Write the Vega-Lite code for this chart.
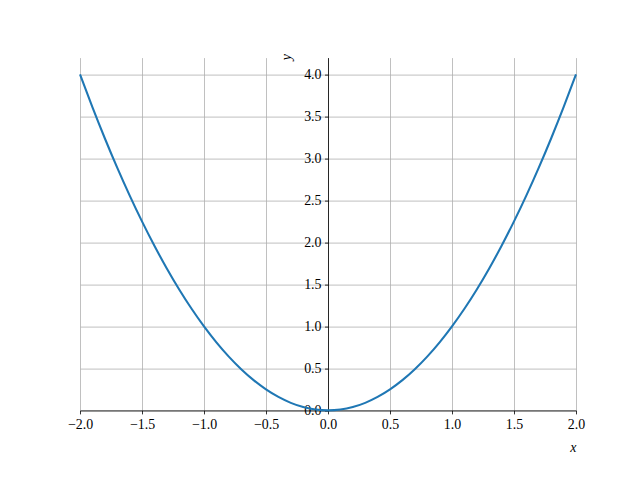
{
  "$schema": "https://vega.github.io/schema/vega-lite/v6.json",
  "width": 496,
  "height": 352.8,
  "autosize": {"type": "none"},
  "padding": {"left": 80, "top": 57.6, "right": 64, "bottom": 69.6},
  "background": "white",
  "config": {
    "view": {"stroke": null},
    "axis": {
      "labelFont": "Liberation Serif",
      "labelFontSize": 13.9,
      "labelColor": "black",
      "titleFont": "Liberation Serif",
      "titleFontSize": 13.9,
      "titleFontWeight": "normal",
      "titleFontStyle": "italic",
      "titleColor": "black",
      "domainColor": "black",
      "domainWidth": 0.8,
      "tickColor": "black",
      "tickWidth": 0.8,
      "tickSize": 3.5,
      "labelPadding": 3.5,
      "gridColor": "#b0b0b0",
      "gridWidth": 0.8,
      "gridOpacity": 1,
      "labelFlush": false,
      "labelOverlap": false,
      "labelBound": false
    }
  },
  "data": {
    "values": [
      {"x": -2.0, "y": 4.00}, {"x": -1.9, "y": 3.61}, {"x": -1.8, "y": 3.24}, {"x": -1.7, "y": 2.89},
      {"x": -1.6, "y": 2.56}, {"x": -1.5, "y": 2.25}, {"x": -1.4, "y": 1.96}, {"x": -1.3, "y": 1.69},
      {"x": -1.2, "y": 1.44}, {"x": -1.1, "y": 1.21}, {"x": -1.0, "y": 1.00}, {"x": -0.9, "y": 0.81},
      {"x": -0.8, "y": 0.64}, {"x": -0.7, "y": 0.49}, {"x": -0.6, "y": 0.36}, {"x": -0.5, "y": 0.25},
      {"x": -0.4, "y": 0.16}, {"x": -0.3, "y": 0.09}, {"x": -0.2, "y": 0.04}, {"x": -0.1, "y": 0.01},
      {"x": 0.0, "y": 0.00},
      {"x": 0.1, "y": 0.01}, {"x": 0.2, "y": 0.04}, {"x": 0.3, "y": 0.09}, {"x": 0.4, "y": 0.16},
      {"x": 0.5, "y": 0.25}, {"x": 0.6, "y": 0.36}, {"x": 0.7, "y": 0.49}, {"x": 0.8, "y": 0.64},
      {"x": 0.9, "y": 0.81}, {"x": 1.0, "y": 1.00}, {"x": 1.1, "y": 1.21}, {"x": 1.2, "y": 1.44},
      {"x": 1.3, "y": 1.69}, {"x": 1.4, "y": 1.96}, {"x": 1.5, "y": 2.25}, {"x": 1.6, "y": 2.56},
      {"x": 1.7, "y": 2.89}, {"x": 1.8, "y": 3.24}, {"x": 1.9, "y": 3.61}, {"x": 2.0, "y": 4.00}
    ]
  },
  "mark": {"type": "line", "color": "#1f77b4", "strokeWidth": 2.08, "interpolate": "monotone"},
  "encoding": {
    "x": {
      "field": "x",
      "type": "quantitative",
      "scale": {"domain": [-2, 2], "nice": false, "zero": false},
      "axis": {
        "title": "x",
        "values": [-2, -1.5, -1, -0.5, 0, 0.5, 1, 1.5, 2],
        "format": ".1f",
        "grid": true,
        "titleAnchor": "end",
        "titleAlign": "right",
        "titleX": 496,
        "titleY": 41.5,
        "titleBaseline": "alphabetic"
      }
    },
    "y": {
      "field": "y",
      "type": "quantitative",
      "scale": {"domain": [0, 4.2], "nice": false, "zero": false},
      "axis": {
        "title": "y",
        "values": [0, 0.5, 1, 1.5, 2, 2.5, 3, 3.5, 4],
        "format": ".1f",
        "grid": true,
        "offset": -248,
        "titleAngle": -90,
        "titleAlign": "right",
        "titleBaseline": "middle",
        "titleX": -42,
        "titleY": -4
      }
    }
  }
}
